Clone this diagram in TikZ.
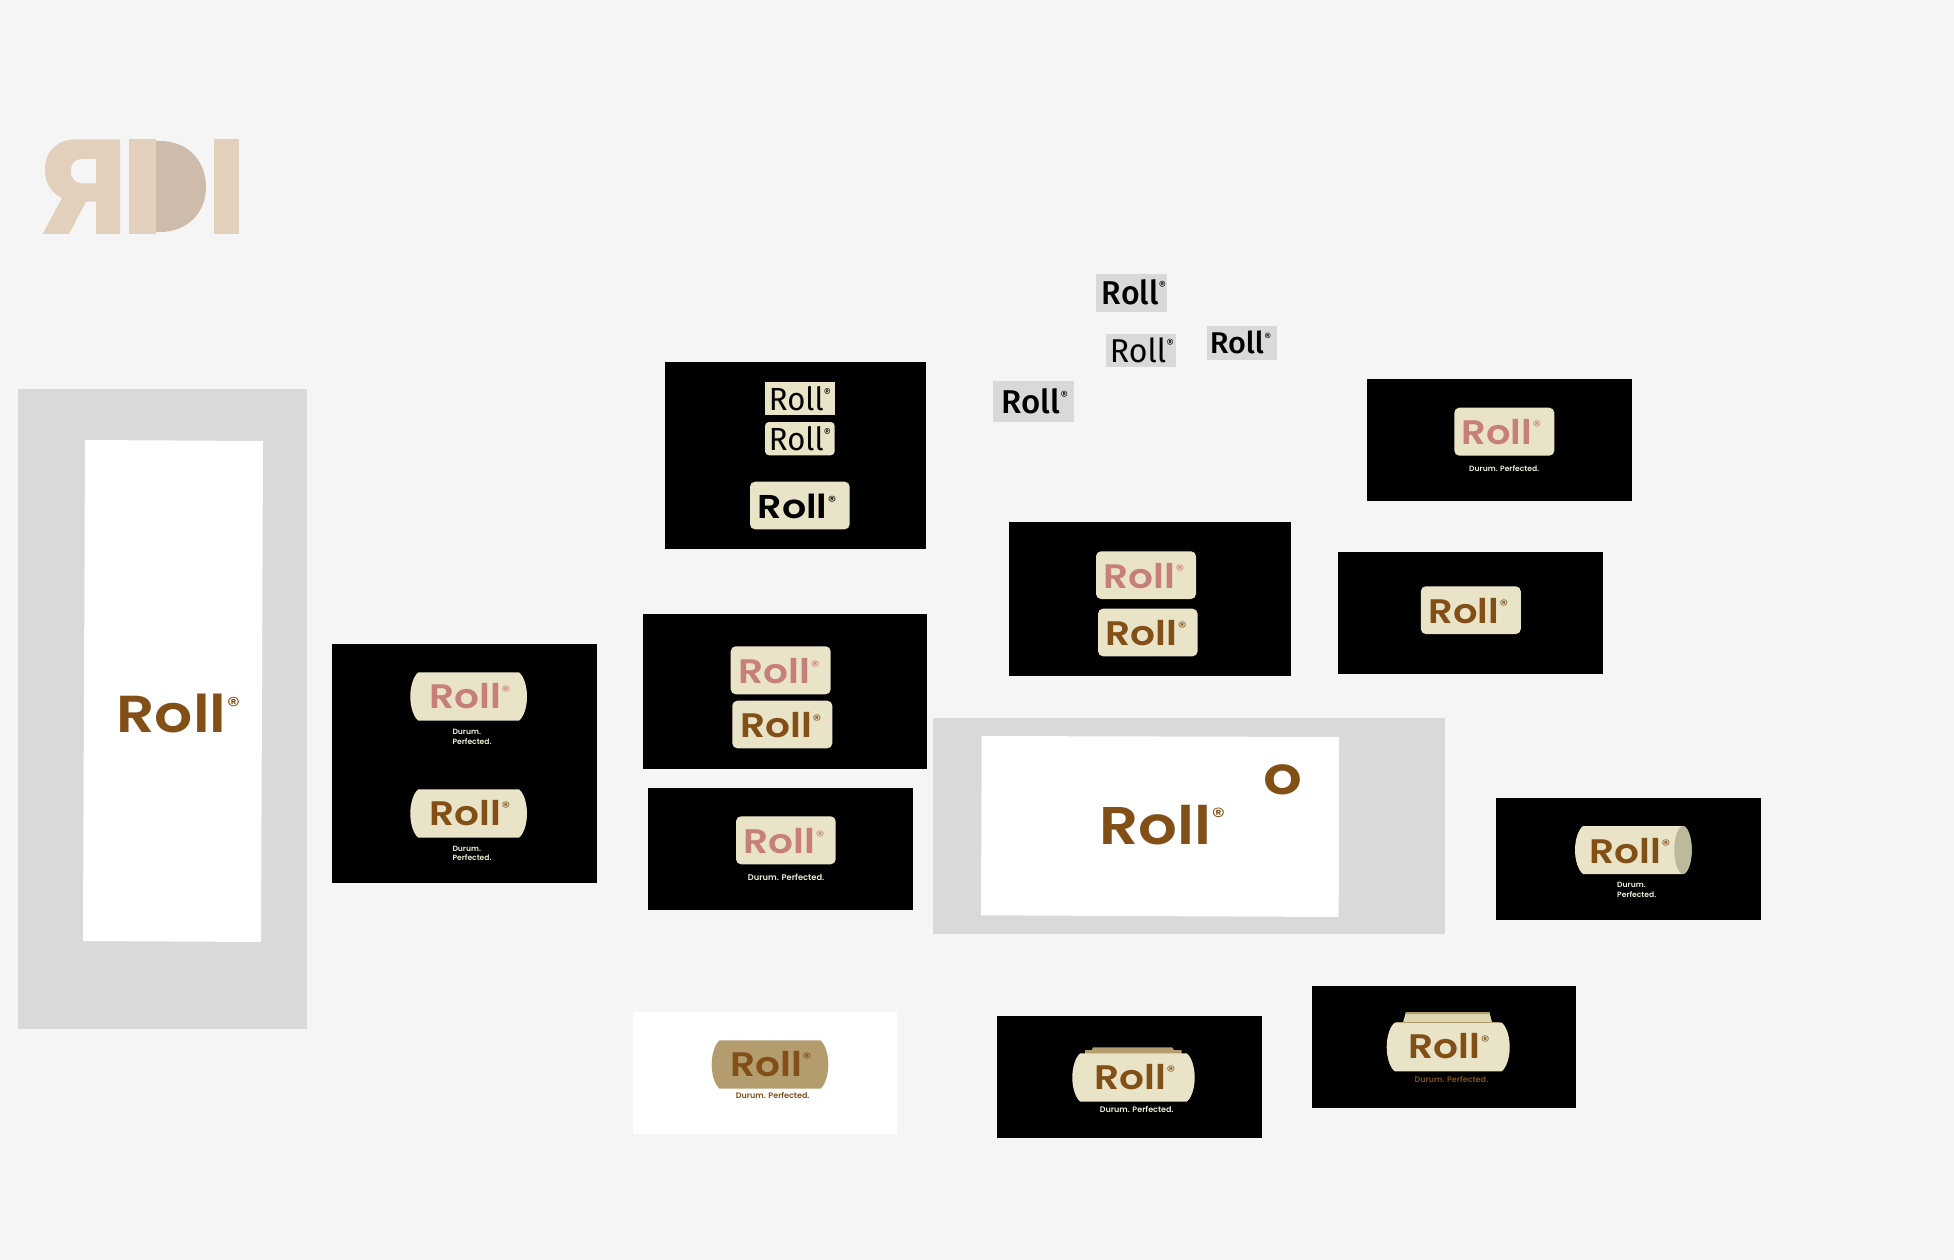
\documentclass[tikz,border=0pt]{standalone}
\usepackage{fontspec}
\usepackage{graphicx}
\setmainfont{Poppins}
\newfontfamily\widefont{Poppins SemiBold}
\newfontfamily\tagfont{Poppins SemiBold}
\newfontfamily\regfont{Poppins}
\newfontfamily\thinfont{Fira Sans}
\newfontfamily\midfont{Fira Sans Medium}
\definecolor{pagebg}{HTML}{F5F5F5}
\definecolor{panelgray}{HTML}{D9D9D9}
\definecolor{cream}{HTML}{E9E4C8}
\definecolor{rose}{HTML}{C67F7C}
\definecolor{rollbrown}{HTML}{824F16}
\definecolor{tan}{HTML}{B39C6E}
\definecolor{tagcream}{HTML}{EFEBD8}
\definecolor{logolight}{HTML}{E2CFBC}
\definecolor{logodark}{HTML}{CDBCAB}
\definecolor{capend}{HTML}{BDB99B}
\definecolor{paleback}{HTML}{DCD7B3}
\newcounter{nn}
\newcommand\regmark{\kern.01em\raisebox{.37em}{\regfont\scalebox{.44}{®}}}
% font, x, baseline y, size, horizontal scale, colour
\newcommand\wordmark[6]{\stepcounter{nn}\node[anchor=base west,inner sep=0pt,text=#6,font=#1\fontsize{#4}{#4}\selectfont] (w\thenn) at (#2,#3) {\kern-.07em\scalebox{#5}[1]{Roll\regmark}};}
% x, baseline y, colour, size, text
\newcommand\tagline[5]{\stepcounter{nn}\node[anchor=base west,inner sep=0pt,text=#3,font=\tagfont\fontsize{#4}{#4}\selectfont] (t\thenn) at (#1,#2) {#5};}
% x1,y1,x2,y2,colour
\newcommand\barrel[5]{\fill[#5] ({#1+8},#2) -- ({#3-8},#2) .. controls ({#3-3.5},{#2+3.5}) and (#3,{#2+13}) .. (#3,{(#2+#4)/2}) .. controls (#3,{#4-13}) and ({#3-3.5},{#4-3.5}) .. ({#3-8},#4) -- ({#1+8},#4) .. controls ({#1+3.5},{#4-3.5}) and (#1,{#4-13}) .. (#1,{(#2+#4)/2}) .. controls (#1,{#2+13}) and ({#1+3.5},{#2+3.5}) .. ({#1+8},#2) -- cycle;}
\tikzset{creambox/.style={fill=cream,rounded corners=5pt}}
\begin{document}
\begin{tikzpicture}[x=1pt,y=-1pt]
\useasboundingbox (0,0) rectangle (1954,1260);
\fill[pagebg] (0,0) rectangle (1954,1260);
% RDI logo
\fill[logolight,even odd rule] (120,139.3) -- (77,139.3) .. controls (58,139.3) and (45,150) .. (45,170) .. controls (45,184) and (52,193) .. (62,198) -- (42.7,234) -- (69,234) -- (86,201.7) -- (96,201.7) -- (96,234) -- (120,234) -- cycle
 (96,159) -- (96,183.3) -- (82,183.3) .. controls (75,183.3) and (70.7,178) .. (70.7,171) .. controls (70.7,164) and (75,159) .. (82,159) -- cycle;
\fill[logodark] (156,141) -- (160,141) .. controls (187,141) and (206,160) .. (206,187) .. controls (206,213) and (187,232) .. (160,232) -- (156,232) -- cycle;
\fill[logolight] (129.3,139.3) rectangle (156,234);
\fill[logolight] (214.3,139.3) rectangle (239,234);
% gray label boxes
\fill[panelgray] (1096,274) rectangle (1166.7,312);
\wordmark{\midfont}{1104}{304}{33}{.97}{black}
\fill[panelgray] (1106,334.3) rectangle (1176,367.3);
\wordmark{\thinfont}{1112}{362}{33}{.97}{black}
\fill[panelgray] (1207,326.3) rectangle (1276.7,359.7);
\wordmark{\midfont}{1211.7}{353.3}{30}{1.02}{black}
\fill[panelgray] (993,381) rectangle (1074.3,422);
\wordmark{\midfont}{1004}{413.3}{33}{1}{black}
% left panel
\fill[panelgray] (17.5,389) rectangle (306.5,1029);
\fill[white] (85,440) -- (263,441) -- (261,942) -- (83,941) -- cycle;
\wordmark{\widefont}{120}{732.3}{52}{1.15}{rollbrown}
% panel A
\fill[black] (665,361.7) rectangle (926.3,549.3);
\fill[cream] (765,381.7) rectangle (834.7,415);
\wordmark{\thinfont}{771}{410}{32}{.97}{black}
\fill[creambox,rounded corners=4pt] (765,422) rectangle (834.7,455.3);
\wordmark{\thinfont}{771}{450}{32}{.97}{black}
\fill[creambox] (750,481.7) rectangle (849.7,529.3);
\wordmark{\widefont}{760}{518.3}{33}{1.15}{black}
% panel B
\fill[black] (331.7,644.3) rectangle (596.7,883.3);
\barrel{410.3}{672.3}{527}{720.7}{cream}
\wordmark{\widefont}{431.7}{708.7}{34}{1.15}{rose}
\tagline{452.3}{734}{tagcream}{7.6}{Durum.}
\tagline{452.3}{744}{tagcream}{7.6}{Perfected.}
\barrel{410.3}{789.3}{527}{837.7}{cream}
\wordmark{\widefont}{431.7}{825.3}{34}{1.15}{rollbrown}
\tagline{452.3}{851}{tagcream}{7.6}{Durum.}
\tagline{452.3}{860.7}{tagcream}{7.6}{Perfected.}
% panel C
\fill[black] (643.3,613.7) rectangle (926.7,768.7);
\fill[creambox] (730.7,646.3) rectangle (830.7,694.3);
\wordmark{\widefont}{741}{683.7}{34}{1.15}{rose}
\fill[creambox] (732.3,700.7) rectangle (832.3,748.3);
\wordmark{\widefont}{742.7}{737.7}{34}{1.15}{rollbrown}
% panel D
\fill[black] (648.3,788) rectangle (913.3,910);
\fill[creambox] (736,816.3) rectangle (835.7,864.3);
\wordmark{\widefont}{746}{853.7}{34}{1.15}{rose}
\tagline{747.7}{880.7}{tagcream}{8.3}{Durum. Perfected.}
% panel E
\fill[black] (1008.6,521.7) rectangle (1291.4,676.3);
\fill[creambox] (1096,551.3) rectangle (1196,599);
\wordmark{\widefont}{1105.7}{588.3}{34}{1.15}{rose}
\fill[creambox] (1098,608.7) rectangle (1197.6,656.3);
\wordmark{\widefont}{1107.8}{645.3}{34}{1.15}{rollbrown}
% panel F
\fill[black] (1367,379) rectangle (1631.8,501.3);
\fill[creambox] (1454.3,407.7) rectangle (1554.3,455.7);
\wordmark{\widefont}{1464}{444.3}{34}{1.13}{rose}
\tagline{1469}{471.7}{tagcream}{7.6}{Durum. Perfected.}
% panel G
\fill[black] (1338.4,551.7) rectangle (1603.3,673.7);
\fill[creambox] (1420.8,586.3) rectangle (1520.8,634);
\wordmark{\widefont}{1431}{623.3}{34}{1.13}{rollbrown}
% large center panel
\fill[panelgray] (933.3,718.3) rectangle (1445,934);
\fill[white] (981.7,736) -- (1339,737) -- (1338.7,917) -- (981,915.3) -- cycle;
\wordmark{\widefont}{1102.7}{844}{53}{1.15}{rollbrown}
\stepcounter{nn}\node[anchor=base,inner sep=0pt,text=rollbrown,font=\widefont\fontsize{53}{53}\selectfont] (w\thenn) at (1283.3,794) {\scalebox{1.15}[1]{o}};
% panel H cylinder
\fill[black] (1496,797.7) rectangle (1760.7,920);
\barrel{1575}{826}{1691.7}{874}{cream}
\fill[capend] (1683,850) ellipse (8.7 and 24);
\wordmark{\widefont}{1591.7}{863.3}{34}{1.15}{rollbrown}
\tagline{1617}{887.3}{tagcream}{7.6}{Durum.}
\tagline{1617}{897.3}{tagcream}{7.6}{Perfected.}
% white panel with tan barrel
\fill[white] (632.7,1012.3) rectangle (897.3,1134);
\barrel{711.7}{1040.3}{828.3}{1088.7}{tan}
\wordmark{\widefont}{732.7}{1076}{34}{1.15}{rollbrown}
\tagline{735.7}{1098.3}{rollbrown}{8}{Durum. Perfected.}
% panel with tan back
\fill[black] (996.7,1016) rectangle (1261.7,1138.3);
\fill[tan] (1085,1058) -- (1085,1050) -- (1091.7,1050) -- (1093,1047.3) -- (1172,1047.3) -- (1174,1050) -- (1181.7,1050) -- (1181.7,1058) -- cycle;
\barrel{1072.3}{1053.3}{1194.7}{1101.7}{cream}
\wordmark{\widefont}{1096.7}{1089.3}{34}{1.15}{rollbrown}
\tagline{1099.7}{1112.7}{tagcream}{8}{Durum. Perfected.}
% panel with pale back
\fill[black] (1311.7,986.3) rectangle (1576.3,1108.3);
\fill[paleback] (1402,1026) -- (1406,1012) -- (1489.3,1012) -- (1493,1026) -- cycle;
\fill[tan] (1406,1012) -- (1489.3,1012) -- (1490,1014.2) -- (1405.4,1014.2) -- cycle;
\barrel{1386.7}{1022.7}{1509.7}{1071.3}{cream}
\draw[tan,line width=1.2pt] (1396,1022.7) -- (1500,1022.7);
\wordmark{\widefont}{1411}{1058.7}{34}{1.15}{rollbrown}
\tagline{1414.3}{1082.3}{rollbrown}{8}{Durum. Perfected.}
\end{tikzpicture}
\end{document}
